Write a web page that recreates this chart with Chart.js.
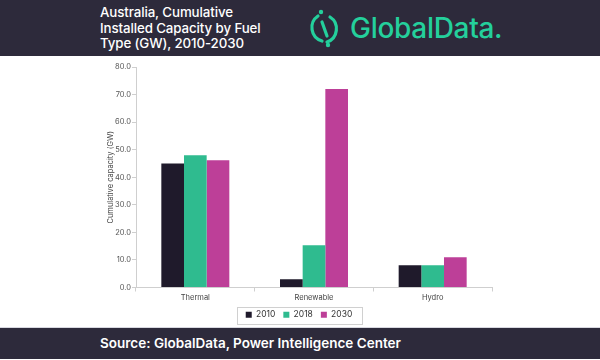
<!DOCTYPE html>
<html>
<head>
<meta charset="utf-8">
<script src="https://cdn.jsdelivr.net/npm/chart.js@4"></script>
<style>
    html, body { margin: 0; padding: 0; }
    body { width: 600px; height: 360px; position: relative; overflow: hidden; background: #fff; font-family: Inter, "Open Sans", sans-serif; }
    .header { position: absolute; left: 0; top: 0; width: 600px; height: 56px; background: #2d2a3b; }
    .header .title { position: absolute; left: 100px; top: 5px; color: #fff; font-size: 13.3px; font-weight: 500; line-height: 15.5px; letter-spacing: -0.1px; }
    .header .logo { position: absolute; left: 308px; top: 8px; height: 40px; display: flex; align-items: center; }
    .header .logo span { color: #24d09c; font-size: 28px; font-weight: 500; margin-left: 8px; letter-spacing: -0.3px; }
    .footer { position: absolute; left: 0; top: 327px; width: 600px; height: 31px; background: #2d2a3b; border-top: 1px solid #d8d8e0; }
    .footer span { position: absolute; left: 100px; top: 7px; color: #fff; font-size: 13.5px; font-weight: 600; }
    #chartWrap { position: absolute; left: 0; top: 0; width: 600px; height: 360px; }
</style>
</head>
<body>
<div id="chartWrap"><canvas id="capacityChart" width="600" height="360"></canvas></div>
<div class="header">
    <div class="title">Australia, Cumulative<br>Installed Capacity by Fuel<br>Type (GW), 2010-2030</div>
    <div class="logo">
        <svg width="34" height="40" viewBox="0 0 34 40">
            <path d="M10 8 A14 14 0 0 0 14 33" fill="none" stroke="#24d09c" stroke-width="3.2" stroke-linecap="round"/>
            <path d="M22 9 A14 14 0 0 1 19 34" fill="none" stroke="#24d09c" stroke-width="3.2" stroke-linecap="round"/>
            <line x1="14" y1="14" x2="19" y2="28" stroke="#24d09c" stroke-width="3.2" stroke-linecap="round"/>
            <circle cx="13" cy="4" r="2.2" fill="#24d09c"/>
            <circle cx="20" cy="37" r="2.2" fill="#24d09c"/>
        </svg>
        <span>GlobalData.</span>
    </div>
</div>
<div class="footer"><span>Source: GlobalData, Power Intelligence Center</span></div>

<script>
// 数据
const categories = ['Thermal', 'Renewable', 'Hydro'];
const years = ['2010', '2018', '2030'];
const values2010 = [45.0, 3.0, 8.1];
const values2018 = [48.0, 15.3, 8.1];
const values2030 = [46.2, 72.0, 11.0];
const yTicks = [0, 10, 20, 30, 40, 50, 60, 70, 80];

const seriesColors = ['#1f1a2b', '#2fbb8f', '#bd3f98'];
const axisColor = '#cfcfcf';
const tickFont = { family: 'Inter, sans-serif', size: 7.5 };

// 图例外框
const legendBorder = {
    id: 'legendBorder',
    afterDraw(chart) {
        const boxes = chart.legend && chart.legend.legendHitBoxes;
        if (!boxes || !boxes.length) return;
        const left = Math.min(...boxes.map(b => b.left)) - 9;
        const right = Math.max(...boxes.map(b => b.left + b.width)) + 9;
        const top = Math.min(...boxes.map(b => b.top)) - 4;
        const bottom = Math.max(...boxes.map(b => b.top + b.height)) + 4;
        const ctx = chart.ctx;
        ctx.save();
        ctx.strokeStyle = '#d0d0d0';
        ctx.lineWidth = 1;
        ctx.strokeRect(Math.round(left) + 0.5, Math.round(top) + 0.5, Math.round(right - left), Math.round(bottom - top));
        ctx.restore();
    }
};

const ctx = document.getElementById('capacityChart').getContext('2d');
const capacityChart = new Chart(ctx, {
    type: 'bar',
    data: {
        labels: categories,
        datasets: [values2010, values2018, values2030].map((data, i) => ({
            label: years[i],
            data: data,
            backgroundColor: seriesColors[i],
            borderWidth: 0,
            categoryPercentage: 0.573,
            barPercentage: 1.0
        }))
    },
    options: {
        responsive: false,
        animation: false,
        layout: {
            padding: { left: 106, right: 108, top: 67, bottom: 31 }
        },
        plugins: {
            legend: {
                position: 'bottom',
                labels: {
                    boxWidth: 6,
                    boxHeight: 6,
                    padding: 8,
                    color: '#333',
                    font: { family: 'Inter, sans-serif', size: 8.5 }
                }
            },
            tooltip: { enabled: false }
        },
        scales: {
            x: {
                grid: {
                    display: true,
                    drawOnChartArea: false,
                    offset: true,
                    color: axisColor,
                    tickLength: 4
                },
                border: { color: axisColor },
                ticks: { color: '#444', font: tickFont, padding: 2 },
                afterFit(scale) { scale.height = 15; }
            },
            y: {
                min: 0,
                max: 80,
                afterBuildTicks(scale) {
                    scale.ticks = yTicks.map(v => ({ value: v }));
                },
                grid: {
                    display: true,
                    drawOnChartArea: false,
                    color: axisColor,
                    tickLength: 4
                },
                border: { color: axisColor },
                ticks: {
                    color: '#555',
                    font: tickFont,
                    padding: 1,
                    callback: v => Number(v).toFixed(1)
                },
                title: {
                    display: true,
                    text: 'Cumulative capacity (GW)',
                    color: '#444',
                    font: { family: 'Inter, sans-serif', size: 7.5 },
                    padding: 0
                },
                afterFit(scale) { scale.width = 30; }
            }
        }
    },
    plugins: [legendBorder]
});
</script>
</body>
</html>
